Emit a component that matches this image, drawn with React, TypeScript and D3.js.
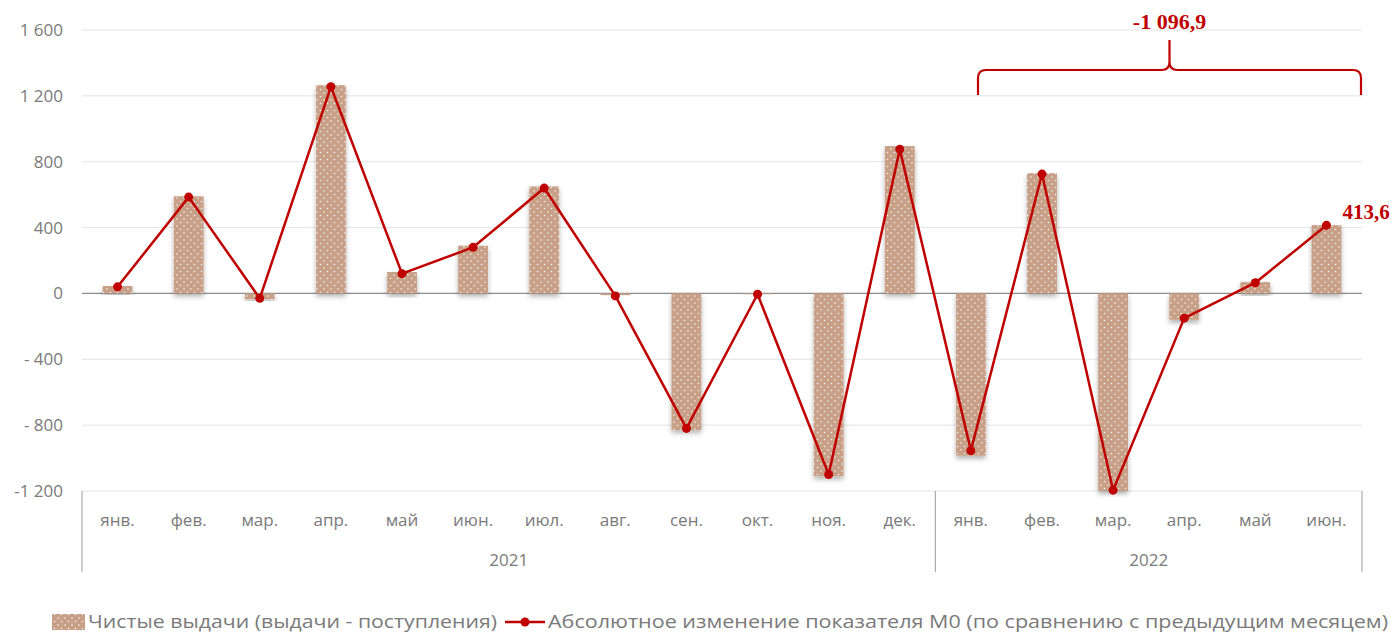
import React from 'react';
import * as d3 from 'd3';

const months = ['янв.', 'фев.', 'мар.', 'апр.', 'май', 'июн.', 'июл.', 'авг.', 'сен.', 'окт.', 'ноя.', 'дек.',
  'янв.', 'фев.', 'мар.', 'апр.', 'май', 'июн.'];
const years = ['2021', '2022'];
const yearSizes = [12, 6];
const netIssue = [45, 590, -35, 1265, 130, 290, 650, -10, -830, -5, -1110, 895, -985, 730, -1200, -160, 70, 415];
const m0Change = [40, 585, -30, 1255, 120, 280, 640, -15, -820, -5, -1100, 875, -955, 725, -1195, -150, 65, 413.6];
const yTicks = [1600, 1200, 800, 400, 0, -400, -800, -1200];
const yTickLabels = ['1 600', '1 200', '800', '400', '0', '- 400', '- 800', '-1 200'];
const legendLabels = ['Чистые выдачи (выдачи - поступления)', 'Абсолютное изменение показателя М0 (по сравнению с предыдущим месяцем)'];
const totalLabel = '-1 096,9';
const lastLabel = '413,6';

const W = 1391, H = 634;
const left = 82, right = 1362, top = 30, bottom = 491;
const font = 'Open Sans, sans-serif';
const gray = '#7a7a7a';
const red = '#C00000';

export default function App() {
  const idx = months.map((_, i) => String(i));
  const x = d3.scaleBand().domain(idx).range([left, right]).paddingInner(0.58).paddingOuter(0.29);
  const y = d3.scaleLinear().domain([-1200, 1600]).range([bottom, top]);
  const cx = (i: number) => (x(String(i)) as number) + x.bandwidth() / 2;
  const step = (right - left) / months.length;
  const line = d3.line<number>().x((_, i) => cx(i)).y(d => y(d));

  // year group boundaries
  const bounds: number[] = [0];
  yearSizes.forEach(s => bounds.push(bounds[bounds.length - 1] + s));

  // bracket over 2022
  const bx0 = left + 12.6 * step, bx1 = right - 1, by = 70, bmid = (bx0 + bx1) / 2;
  const r = 8;
  const bracket = `M${bx0},${by + 25} L${bx0},${by + r} Q${bx0},${by} ${bx0 + r},${by} L${bmid - r},${by} Q${bmid},${by} ${bmid},${by - r} L${bmid},${by - 30}` +
    ` M${bmid},${by - r} Q${bmid},${by} ${bmid + r},${by} L${bx1 - r},${by} Q${bx1},${by} ${bx1},${by + r} L${bx1},${by + 25}`;

  return (
    <svg width={W} height={H} style={{ position: 'absolute', left: 0, top: 0, background: '#fff' }}>
      <defs>
        <pattern id="dots" width="7" height="7" patternUnits="userSpaceOnUse">
          <rect width="7" height="7" fill="#C8A088" />
          <circle cx="2" cy="2" r="0.8" fill="#fff" opacity="0.85" />
          <circle cx="5.5" cy="5.5" r="0.8" fill="#fff" opacity="0.85" />
        </pattern>
        <filter id="shadow" x="-30%" y="-10%" width="160%" height="130%">
          <feDropShadow dx="0" dy="3" stdDeviation="2.5" floodColor="#000" floodOpacity="0.3" />
        </filter>
      </defs>

      {/* grid */}
      {yTicks.map(t => (
        <line key={t} x1={left} x2={right} y1={y(t)} y2={y(t)} stroke={t === 0 ? '#8c8c8c' : '#e3e3e3'} strokeWidth={t === 0 ? 1.3 : 1} />
      ))}
      {yTicks.map((t, i) => (
        <text key={'l' + t} x={63} y={y(t)} dy="0.35em" textAnchor="end" fontSize={17} fill={gray} fontFamily={font}>{yTickLabels[i]}</text>
      ))}

      {/* bars */}
      {netIssue.map((v, i) => (
        <rect key={i} x={x(String(i))} width={x.bandwidth()} y={y(Math.max(0, v))} height={Math.abs(y(v) - y(0))}
          fill="url(#dots)" filter="url(#shadow)" />
      ))}

      {/* line */}
      <path d={line(m0Change) || ''} fill="none" stroke={red} strokeWidth={2.5} strokeLinejoin="round" />
      {m0Change.map((v, i) => (
        <circle key={i} cx={cx(i)} cy={y(v)} r={4.5} fill={red} />
      ))}

      {/* category axis */}
      {bounds.map(b => (
        <line key={'b' + b} x1={left + b * step} x2={left + b * step} y1={bottom} y2={572} stroke="#9a9a9a" strokeWidth={1} />
      ))}
      {months.map((m, i) => (
        <text key={'m' + i} x={cx(i)} y={520} dy="0.35em" textAnchor="middle" fontSize={17} fill={gray} fontFamily={font}>{m}</text>
      ))}
      {years.map((yr, j) => (
        <text key={yr} x={left + (bounds[j] + bounds[j + 1]) / 2 * step} y={560} dy="0.35em" textAnchor="middle" fontSize={17} fill={gray} fontFamily={font}>{yr}</text>
      ))}

      {/* annotations */}
      <path d={bracket} fill="none" stroke={red} strokeWidth={2.2} />
      <text x={bmid} y={21} dy="0.35em" textAnchor="middle" fontSize={22} fontWeight="bold" fill={red} fontFamily="Liberation Serif, serif">{totalLabel}</text>
      <text x={cx(17) + 16} y={212} dy="0.35em" fontSize={21} fontWeight="bold" fill={red} fontFamily="Liberation Serif, serif">{lastLabel}</text>

      {/* legend */}
      <rect x={52} y={614} width={33} height={16} fill="url(#dots)" />
      <text x={88} y={622} dy="0.35em" fontSize={18} fill={gray} fontFamily={font} textLength={409} lengthAdjust="spacingAndGlyphs">{legendLabels[0]}</text>
      <line x1={505} x2={545} y1={622} y2={622} stroke={red} strokeWidth={2.5} />
      <circle cx={525} cy={622} r={4.5} fill={red} />
      <text x={548} y={622} dy="0.35em" fontSize={18} fill={gray} fontFamily={font} textLength={840} lengthAdjust="spacingAndGlyphs">{legendLabels[1]}</text>
    </svg>
  );
}
